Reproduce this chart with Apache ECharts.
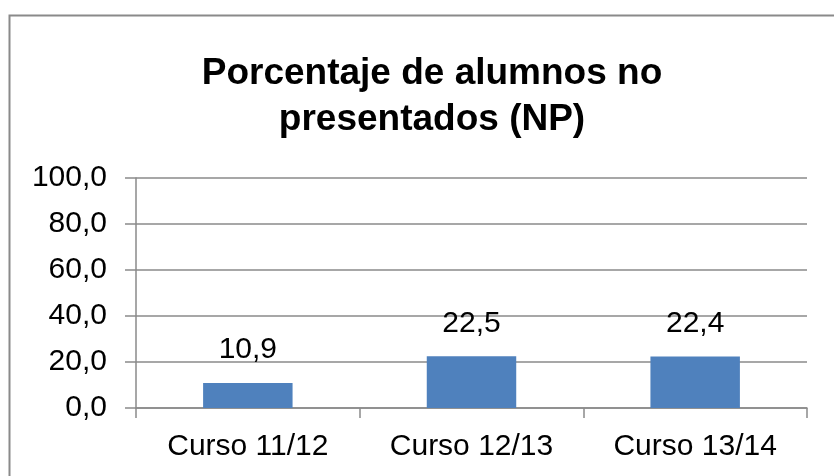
<!DOCTYPE html>
<html>
<head>
<meta charset="utf-8">
<script src="https://cdn.jsdelivr.net/npm/echarts@6/dist/echarts.min.js"></script>
<style>
  html, body { margin: 0; padding: 0; background: #fff; }
  #chart { width: 834px; height: 476px; }
</style>
</head>
<body>
<div id="chart"></div>
<script>
const categories = ['Curso 11/12', 'Curso 12/13', 'Curso 13/14'];
const npValues = [10.9, 22.5, 22.4];
const titleText = 'Porcentaje de alumnos no\npresentados (NP)';

const fmt = (v) => Number(v).toFixed(1).replace('.', ',');

const chart = echarts.init(document.getElementById('chart'));

chart.setOption({
  backgroundColor: '#fff',
  animation: false,
  graphic: [{
    type: 'rect',
    shape: { x: 9.5, y: 15.5, width: 840, height: 480 },
    style: { fill: 'none', stroke: '#8a8a8a', lineWidth: 2 },
    silent: true
  }],
  title: {
    text: titleText,
    left: 427,
    top: 46,
    textAlign: 'center',
    textStyle: {
      fontFamily: 'Liberation Sans, Arial, sans-serif',
      fontSize: 37,
      fontWeight: 'bold',
      color: '#000',
      lineHeight: 46
    }
  },
  grid: {
    left: 136,
    right: 27,
    top: 178,
    bottom: 68,
    containLabel: false
  },
  xAxis: {
    type: 'category',
    data: categories,
    axisLine: { lineStyle: { color: '#8a8a8a', width: 1.5 } },
    axisTick: { show: true, alignWithLabel: false, length: 10, lineStyle: { color: '#8a8a8a', width: 1.5 } },
    axisLabel: {
      fontFamily: 'Liberation Sans, Arial, sans-serif',
      fontSize: 30,
      color: '#000',
      margin: 24
    }
  },
  yAxis: {
    type: 'value',
    min: 0,
    max: 100,
    interval: 20,
    axisLine: { show: true, lineStyle: { color: '#8a8a8a', width: 1.5 } },
    axisTick: { show: true, length: 11, lineStyle: { color: '#8a8a8a', width: 1.5 } },
    splitLine: { lineStyle: { color: '#8a8a8a', width: 1.5 } },
    axisLabel: {
      fontFamily: 'Liberation Sans, Arial, sans-serif',
      fontSize: 30,
      color: '#000',
      margin: 29,
      formatter: fmt
    }
  },
  series: [{
    type: 'bar',
    data: npValues,
    barWidth: '40%',
    itemStyle: { color: '#4f81bd' },
    label: {
      show: true,
      position: 'top',
      distance: 18,
      fontFamily: 'Liberation Sans, Arial, sans-serif',
      fontSize: 30,
      color: '#000',
      formatter: (p) => fmt(p.value)
    }
  }]
});
</script>
</body>
</html>
